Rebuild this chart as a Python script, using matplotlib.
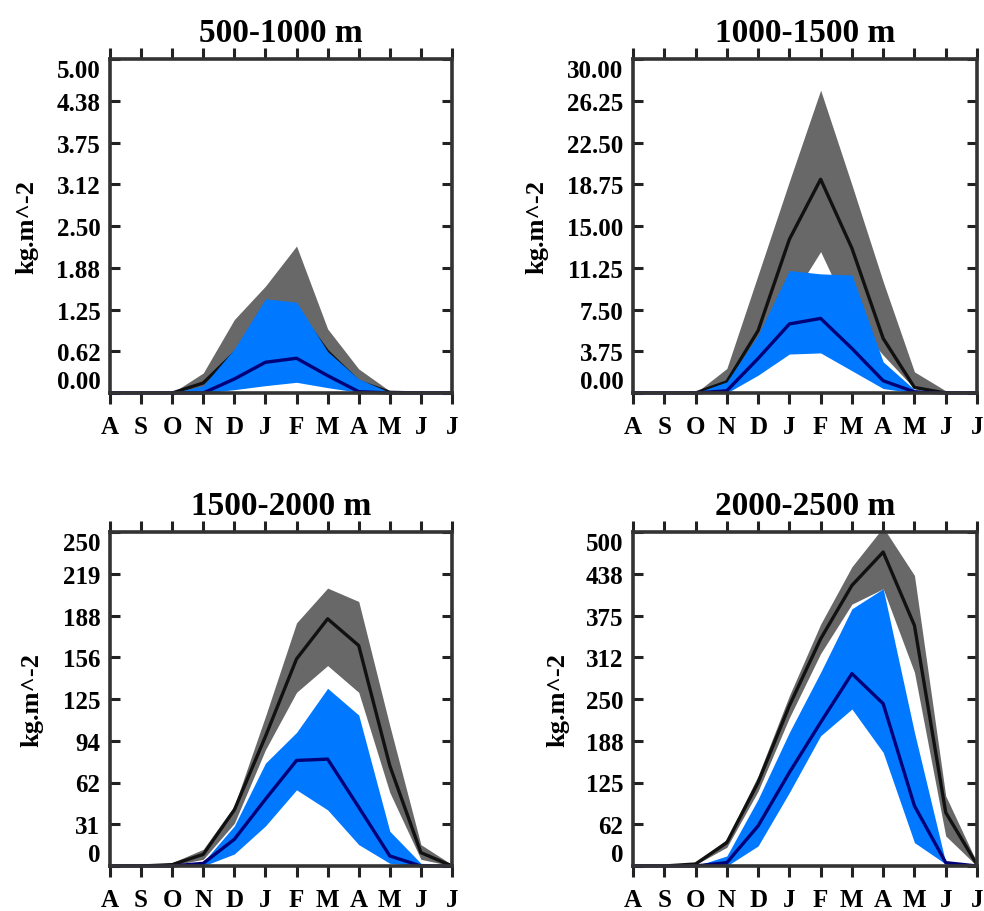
import matplotlib
matplotlib.use("Agg")
import matplotlib.pyplot as plt
import numpy as np

months = ["A", "S", "O", "N", "D", "J", "F", "M", "A", "M", "J", "J"]
titles = ["500-1000 m", "1000-1500 m", "1500-2000 m", "2000-2500 m"]
ymax = [5.0, 30.0, 250.0, 500.0]
yfmt = ["%.2f", "%.2f", "%.0f", "%.0f"]
ylabel = "kg.m^-2"

# gray ensemble (upper, lower, mean) and blue ensemble (upper, lower, mean)
gray_hi_1 = [0, 0, 0, 0.30, 1.10, 1.60, 2.20, 0.96, 0.36, 0.03, 0, 0]
gray_lo_1 = [0, 0, 0, 0.05, 0.15, 0.25, 0.30, 0.20, 0.05, 0.0, 0, 0]
gray_mn_1 = [0, 0, 0, 0.15, 0.60, 1.05, 1.25, 0.62, 0.17, 0.01, 0, 0]
blue_hi_1 = [0, 0, 0, 0.11, 0.66, 1.41, 1.36, 0.62, 0.21, 0.01, 0, 0]
blue_lo_1 = [0, 0, 0, 0.00, 0.05, 0.11, 0.16, 0.08, 0.01, 0.0, 0, 0]
blue_mn_1 = [0, 0, 0, 0.00, 0.21, 0.46, 0.52, 0.26, 0.02, 0.0, 0, 0]

gray_hi_2 = [0, 0, 0, 2.2, 10.6, 19.0, 27.2, 18.7, 10.0, 1.9, 0.2, 0]
gray_lo_2 = [0, 0, 0, 0.5, 3.5, 8.2, 12.7, 6.7, 3.4, 0.4, 0.0, 0]
gray_mn_2 = [0, 0, 0, 1.0, 5.6, 13.8, 19.2, 13.0, 4.9, 0.5, 0.0, 0]
blue_hi_2 = [0, 0, 0, 1.0, 5.2, 11.0, 10.7, 10.6, 2.8, 0.3, 0.0, 0]
blue_lo_2 = [0, 0, 0, 0.0, 1.6, 3.5, 3.6, 2.0, 0.4, 0.0, 0.0, 0]
blue_mn_2 = [0, 0, 0, 0.2, 3.1, 6.2, 6.7, 4.0, 1.1, 0.1, 0.0, 0]

gray_hi_3 = [0, 0, 2.5, 12.5, 45, 112, 182, 208, 198, 105, 16, 1]
gray_lo_3 = [0, 0, 0.5, 5, 32, 87, 130, 150, 130, 55, 5, 0]
gray_mn_3 = [0, 0, 1, 8.7, 42, 97, 155, 185, 165, 75, 10, 0]
blue_hi_3 = [0, 0, 0, 3, 30, 77, 100, 133, 113, 26, 2, 0]
blue_lo_3 = [0, 0, 0, 0, 9, 30, 57, 42, 16, 2, 0, 0]
blue_mn_3 = [0, 0, 0, 2, 20, 50, 79, 80, 44, 7.5, 0, 0]

gray_hi_4 = [0, 0, 5, 40, 135, 255, 362, 448, 507, 435, 105, 5]
gray_lo_4 = [0, 0, 2, 28, 112, 222, 318, 392, 415, 290, 45, 0]
gray_mn_4 = [0, 0, 3, 35, 125, 240, 340, 420, 470, 360, 80, 2]
blue_hi_4 = [0, 0, 0, 15, 100, 200, 290, 385, 415, 200, 5, 0]
blue_lo_4 = [0, 0, 0, 0, 30, 110, 195, 235, 170, 35, 3, 0]
blue_mn_4 = [0, 0, 0, 5, 60, 140, 215, 288, 243, 90, 5, 0]

panels = [
    (gray_hi_1, gray_lo_1, gray_mn_1, blue_hi_1, blue_lo_1, blue_mn_1),
    (gray_hi_2, gray_lo_2, gray_mn_2, blue_hi_2, blue_lo_2, blue_mn_2),
    (gray_hi_3, gray_lo_3, gray_mn_3, blue_hi_3, blue_lo_3, blue_mn_3),
    (gray_hi_4, gray_lo_4, gray_mn_4, blue_hi_4, blue_lo_4, blue_mn_4),
]

W, H = 984, 912
fig = plt.figure(figsize=(W / 100, H / 100), dpi=100)

# axes boxes in pixels: left, top, right, bottom
boxes = [(110, 60, 452, 394), (633, 60, 977, 394),
         (110, 533, 452, 867), (633, 533, 977, 867)]
ylab_x = [27, 537, 32, 558]

serif = ["Liberation Serif", "DejaVu Serif"]
GRAY = "#686868"
BLUE = "#0078ff"
NAVY = "#000078"

x = np.arange(len(months))
for i, (box, data) in enumerate(zip(boxes, panels)):
    l, t, r, b = box
    ax = fig.add_axes([l / W, 1 - b / H, (r - l) / W, (b - t) / H])
    ghi, glo, gmn, bhi, blo, bmn = data
    ax.fill_between(x, glo, ghi, color=GRAY, lw=0, zorder=1, clip_on=False)
    ax.plot(x, gmn, color="#111111", lw=2.4, zorder=2)
    ax.fill_between(x, blo, bhi, color=BLUE, lw=0, zorder=3)
    ax.plot(x, bmn, color=NAVY, lw=2.4, zorder=4, clip_on=False)

    ax.set_xlim(0, len(months) - 1)
    ax.set_ylim(0, ymax[i])
    ax.set_xticks(x)
    ax.set_xticklabels(months, fontfamily=serif, fontweight="bold", fontsize=18)
    yt = np.linspace(0, ymax[i], 9)
    ax.set_yticks(yt)
    ax.set_yticklabels([yfmt[i] % v for v in yt], fontfamily=serif,
                       fontweight="bold", fontsize=18)
    labs = ax.get_yticklabels()
    labs[0].set_va("bottom")
    labs[-1].set_va("top")

    ax.tick_params(axis="x", direction="out", top=True, bottom=True,
                   length=8, width=2.2, pad=8, color="#222222")
    ax.tick_params(axis="y", direction="in", left=True, right=True,
                   length=7, width=2.2, pad=7, color="#222222")
    for sp in ax.spines.values():
        sp.set_linewidth(2.6)
        sp.set_color("#333333")
        sp.set_zorder(5)

    ax.set_title(titles[i], fontfamily=serif, fontweight="bold",
                 fontsize=24, pad=13)
    ax.set_ylabel(ylabel, fontfamily=serif, fontweight="bold", fontsize=19,
                  va="center")
    ax.yaxis.set_label_coords((ylab_x[i] - l) / (r - l), 0.5)

fig.savefig("out.png", dpi=100)
